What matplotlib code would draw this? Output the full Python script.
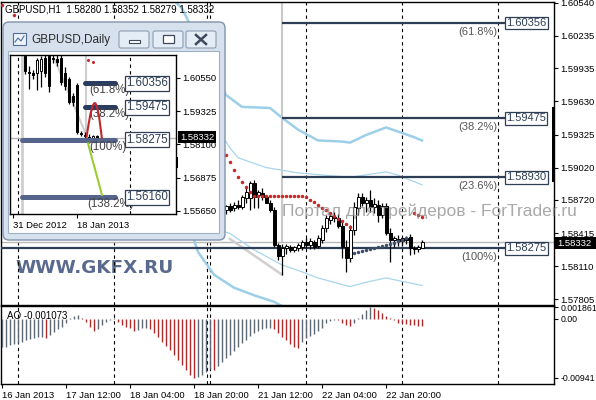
import matplotlib
matplotlib.use("Agg")
import matplotlib.pyplot as plt
from matplotlib.patches import Rectangle, FancyBboxPatch

plt.rcParams['font.family'] = ['Liberation Sans', 'DejaVu Sans']

# ---------------- H1 chart data ----------------
symbol = "GBPUSD,H1"
candle_bars = list(range(56, 106))
opens = [1.58627, 1.58664, 1.58646, 1.58674, 1.58655, 1.58738, 1.58738, 1.58877, 1.58766, 1.58784,
         1.58747, 1.58692, 1.58627, 1.58304, 1.58202, 1.58276, 1.58286, 1.58258, 1.58276, 1.58286,
         1.58332, 1.58304, 1.58332, 1.58295, 1.58350, 1.58461, 1.58535, 1.58563, 1.58554, 1.58480,
         1.58286, 1.58184, 1.58443, 1.58646, 1.58747, 1.58692, 1.58720, 1.58655, 1.58674, 1.58581,
         1.58664, 1.58415, 1.58350, 1.58359, 1.58341, 1.58369, 1.58378, 1.58276, 1.58267, 1.58280]
highs = [1.58674, 1.58692, 1.58701, 1.58720, 1.58766, 1.58831, 1.58895, 1.58905, 1.58812, 1.58831,
         1.58766, 1.58720, 1.58655, 1.58322, 1.58313, 1.58313, 1.58304, 1.58295, 1.58322, 1.58350,
         1.58369, 1.58369, 1.58350, 1.58396, 1.58489, 1.58581, 1.58600, 1.58609, 1.58591, 1.58517,
         1.58350, 1.58489, 1.58701, 1.58784, 1.58784, 1.58747, 1.58812, 1.58738, 1.58720, 1.58692,
         1.58692, 1.58461, 1.58387, 1.58396, 1.58378, 1.58387, 1.58406, 1.58295, 1.58304, 1.58352]
lows = [1.58591, 1.58609, 1.58618, 1.58637, 1.58637, 1.58692, 1.58627, 1.58646, 1.58646, 1.58720,
        1.58692, 1.58609, 1.58286, 1.58165, 1.58027, 1.58221, 1.58239, 1.58239, 1.58248, 1.58258,
        1.58276, 1.58267, 1.58267, 1.58276, 1.58322, 1.58424, 1.58498, 1.58517, 1.58461, 1.58184,
        1.58054, 1.58147, 1.58396, 1.58581, 1.58664, 1.58609, 1.58609, 1.58600, 1.58517, 1.58554,
        1.58396, 1.58147, 1.58286, 1.58295, 1.58295, 1.58313, 1.58212, 1.58221, 1.58239, 1.58279]
closes = [1.58664, 1.58627, 1.58674, 1.58655, 1.58747, 1.58794, 1.58877, 1.58747, 1.58794, 1.58747,
          1.58692, 1.58627, 1.58304, 1.58202, 1.58276, 1.58295, 1.58258, 1.58286, 1.58304, 1.58332,
          1.58304, 1.58341, 1.58286, 1.58369, 1.58461, 1.58554, 1.58572, 1.58554, 1.58480, 1.58286,
          1.58184, 1.58443, 1.58655, 1.58747, 1.58692, 1.58720, 1.58655, 1.58683, 1.58581, 1.58664,
          1.58415, 1.58350, 1.58369, 1.58341, 1.58369, 1.58350, 1.58276, 1.58267, 1.58286, 1.58332]

upper_thick_bars = [42, 45, 50, 56, 60, 67, 70, 74, 79, 85, 87, 91, 96, 100, 103, 105]
upper_thick_vals = [1.6060, 1.6049, 1.6012, 1.5969, 1.5958, 1.5957, 1.5948, 1.5937, 1.5927, 1.5926,
                    1.5925, 1.5932, 1.5939, 1.5934, 1.5930, 1.5927]
upper_thin_bars = [50, 56, 57, 59, 66, 74, 87, 96, 99, 105]
upper_thin_vals = [1.5940, 1.5926, 1.5920, 1.5911, 1.5902, 1.5897, 1.5893, 1.5898, 1.5895, 1.5886]
lower_thick_bars = [45, 48, 49, 53, 58, 63, 68, 72]
lower_thick_vals = [1.5850, 1.5835, 1.5824, 1.5803, 1.5791, 1.5784, 1.5778, 1.5770]
lower_thin_bars = [50, 57, 63, 70, 74, 79, 87, 91, 96, 105]
lower_thin_vals = [1.5850, 1.5841, 1.5826, 1.5812, 1.5807, 1.5800, 1.5792, 1.5796, 1.5800, 1.5793]

sar_up_bars = [0, 3] + list(range(56, 88)) + [103, 104, 105]
sar_up_vals = [1.6052, 1.6043,
               1.59136, 1.59071, 1.58997, 1.58932, 1.58886, 1.58840, 1.58794,
               1.58757, 1.58757, 1.58757, 1.58757, 1.58757, 1.58757, 1.58757, 1.58757, 1.58757,
               1.58757, 1.58757, 1.58757, 1.58757,
               1.58747, 1.58720, 1.58701, 1.58674, 1.58646, 1.58627, 1.58600, 1.58572, 1.58544,
               1.58526, 1.58498, 1.58470,
               1.58600, 1.58581, 1.58563]
sar_dn_bars = list(range(88, 102))
sar_dn_vals = [1.58230, 1.58239, 1.58248, 1.58258, 1.58267, 1.58276, 1.58286, 1.58295, 1.58304,
               1.58313, 1.58322, 1.58341, 1.58350, 1.58369]

fib_levels = [1.60356, 1.59475, 1.58930, 1.58275]
fib_names = ["(61.8%)", "(38.2%)", "(23.6%)", "(100%)"]
fib_start_bar = 70
fib_end_bar = 125.75
last_price = 1.58332
trend_bars = [57, 70]
trend_vals = [1.5836, 1.5803]

price_ticks = [1.60540, 1.60235, 1.59935, 1.59630, 1.59325, 1.59020, 1.58720, 1.58415, 1.58110, 1.57805]
day_separators = [4, 28, 51.25, 52, 76, 100, 124]
date_ticks = [0, 16, 32, 48, 64, 80, 96]
date_labels = ["16 Jan 2013", "17 Jan 12:00", "18 Jan 04:00", "18 Jan 20:00",
               "21 Jan 12:00", "22 Jan 04:00", "22 Jan 20:00"]

# Awesome Oscillator values, bars 0..105
ao_vals = [-0.0045, -0.0044, -0.0042, -0.0040, -0.0038, -0.0036, -0.0034, -0.0032, -0.0031, -0.0029,
           -0.0028, -0.0030, -0.0026, -0.0021, -0.0016, -0.0012, -0.0007, 0.0002, 0.0005, 0.0006,
           0.0002, -0.0005, -0.0012, -0.0019, -0.0016, -0.0010, -0.0005, -0.0002, 0.0001, -0.0005,
           -0.0009, -0.0012, -0.0015, -0.0019, -0.0017, -0.0015, -0.0014, -0.0016, -0.0022, -0.0029,
           -0.0036, -0.0043, -0.0050, -0.0058, -0.0066, -0.0074, -0.0082, -0.0089, -0.00941, -0.0093,
           -0.0089, -0.0085, -0.0080, -0.0082, -0.0075, -0.0069, -0.0063, -0.0057, -0.0051, -0.0045,
           -0.0039, -0.0033, -0.0027, -0.0022, -0.0019, -0.0016, -0.0015, -0.0014, -0.0016, -0.0022,
           -0.0028, -0.0034, -0.0040, -0.0044, -0.0046, -0.0036, -0.0030, -0.0027, -0.0024, -0.0019,
           -0.0014, -0.0007, -0.0003, -0.0001, -0.0002, -0.0007, -0.0010, -0.0011, -0.0006, 0.0002,
           0.0008, 0.0014, 0.001861, 0.0017, 0.0014, 0.0010, 0.0004, 0.0001, -0.0002, -0.0006,
           -0.0007, -0.0008, -0.0009, -0.0010, -0.00105, -0.001073]
ao_ticks = [0.001861, 0.0, -0.00941]
ao_tick_labels = ["0.001861", "0.00", "-0.00941"]

# ---------------- Daily inset data ----------------
d_bars = list(range(3, 22))
d_open = [1.6135, 1.6078, 1.6072, 1.6075, 1.6080, 1.6130, 1.6135, 1.6130, 1.6125, 1.6128,
          1.6075, 1.6050, 1.5990, 1.6030, 1.5851, 1.5845, 1.5839, 1.5833, 1.5840]
d_high = [1.6145, 1.6100, 1.6085, 1.6130, 1.6135, 1.6150, 1.6160, 1.6150, 1.6140, 1.6140,
          1.6095, 1.6060, 1.6000, 1.6035, 1.5860, 1.5855, 1.5850, 1.5845, 1.5845]
d_low = [1.6070, 1.6015, 1.6050, 1.6010, 1.6020, 1.6060, 1.6005, 1.6110, 1.6100, 1.6030,
         1.6010, 1.5960, 1.5950, 1.5850, 1.5840, 1.5830, 1.5814, 1.5825, 1.5830]
d_close = [1.6080, 1.6072, 1.6066, 1.6120, 1.6125, 1.6075, 1.6025, 1.6125, 1.6115, 1.6040,
           1.6025, 1.5968, 1.5965, 1.5857, 1.5848, 1.5840, 1.5830, 1.5840, 1.58332]
d_fib_levels = [1.60356, 1.59475, 1.58275, 1.56160]
d_fib_names = ["(61.8%)", "(38.2%)", "(100%)", "(138.2%)"]
d_fib_start = [18, 18, 2.25, 2.25]
d_fib_colors = ["#2b3c62", "#2b3c62", "#55648a", "#55648a"]
d_arc_bars = [18.4, 18.9, 19.4, 19.9, 20.3, 20.6, 21.0, 21.5, 21.9, 22.2]
d_arc_vals = [1.5839, 1.5885, 1.5925, 1.5952, 1.5962, 1.5962, 1.5950, 1.5915, 1.5870, 1.5835]
d_green_bars = [18.75, 22.25]
d_green_vals = [1.5814, 1.5624]
d_trend_bars = [10.5, 18.5]
d_trend_vals = [1.6121, 1.5838]
d_sar_bars = [18.75, 20]
d_sar_vals = [1.6121, 1.6114]
d_price_ticks = [1.60550, 1.59325, 1.58100, 1.56875, 1.55650]
d_date_ticks = [0, 16]
d_date_labels = ["31 Dec 2012", "18 Jan 2013"]
d_separators = [1.25, 29.25]

# ---------------- figure ----------------
W, H = 596, 400
fig = plt.figure(figsize=(W / 100, H / 100), dpi=100)
fig.patch.set_facecolor("white")


def rect(x0, y0, x1, y1):
    return [x0 / W, 1 - y1 / H, (x1 - x0) / W, (y1 - y0) / H]


ax = fig.add_axes(rect(1, 2, 554, 305), zorder=0)
ao = fig.add_axes(rect(1, 306, 554, 384), zorder=0)
ov = fig.add_axes([0, 0, 1, 1], zorder=5)
ov.set_xlim(0, W)
ov.set_ylim(H, 0)
ov.axis("off")
ins = fig.add_axes(rect(10, 55, 176, 214), zorder=6)

LBL = 6.8


def style_axes(a, size=LBL):
    for s in a.spines.values():
        s.set_color("black")
        s.set_linewidth(1)
    a.yaxis.tick_right()
    a.tick_params(axis="y", length=3, width=0.8, pad=1.5, labelsize=size, colors="black")


def draw_candles(a, xs, o, h, l, c, w, tiny):
    a.vlines(xs, l, h, color="black", lw=0.9, zorder=4)
    for x, oo, cc in zip(xs, o, c):
        b = min(oo, cc)
        hh = max(abs(cc - oo), tiny)
        a.add_patch(Rectangle((x - w / 2, b), w, hh, fc="white" if cc >= oo else "black",
                              ec="black", lw=0.7, zorder=5))


# ---- main chart ----
ax.set_xlim(-0.25, 138)
ax.set_ylim(1.57750, 1.60549)
style_axes(ax)
ax.set_xticks([])
ax.set_yticks(price_ticks)
ax.set_yticklabels([f"{v:.5f}" for v in price_ticks])

for s in day_separators:
    ax.axvline(s, color="black", lw=0.8, dashes=(3, 3), zorder=1)
    ao.axvline(s, color="black", lw=0.8, dashes=(3, 3), zorder=1)

ax.axhline(last_price, color="#b8b8b8", lw=1, zorder=1)
ax.plot(upper_thick_bars, upper_thick_vals, color="#9dcfe8", lw=1.8, zorder=2)
ax.plot(lower_thick_bars, lower_thick_vals, color="#9dcfe8", lw=1.8, zorder=2)
ax.plot(upper_thin_bars, upper_thin_vals, color="#a8d6ec", lw=0.9, zorder=2)
ax.plot(lower_thin_bars, lower_thin_vals, color="#a8d6ec", lw=0.9, zorder=2)
ax.plot(trend_bars, trend_vals, color="#d0d0d0", lw=1.8, zorder=2)
ax.vlines(fib_start_bar, last_price, 1.60549, color="#c9c9c9", lw=1.5, zorder=2)

fib_col = "#2e3f55"
for lev, name in zip(fib_levels, fib_names):
    x0 = -0.25 if name == "(100%)" else fib_start_bar
    ax.hlines(lev, x0, fib_end_bar, color=fib_col, lw=1.6, zorder=3)
    ax.text(fib_end_bar + 0.3, lev, f"{lev:.5f}", fontsize=8, color=fib_col, va="center", ha="left",
            zorder=7, bbox=dict(boxstyle="square,pad=0.12", fc="white", ec=fib_col, lw=0.9))
    ax.text(fib_end_bar - 2, lev - 0.00085, name, fontsize=8, color="#555555", va="center",
            ha="right", zorder=7)

draw_candles(ax, candle_bars, opens, highs, lows, closes, 0.75, 0.00003)
ax.plot(sar_up_bars, sar_up_vals, "o", ms=2.5, color="#c62828", mec="none", zorder=6)
ax.plot(sar_dn_bars, sar_dn_vals, "o", ms=2.5, color="#3b4d69", mec="none", zorder=6)

title = f"{symbol}  {opens[-1]:.5f} {highs[-1]:.5f} {lows[-1]:.5f} {closes[-1]:.5f}"
ax.text(5, 9, title, transform=ov.transData, fontsize=7, va="center", ha="left", zorder=8)
ax.text(15, 268, "WWW.GKFX.RU", transform=ov.transData, fontsize=13.2, fontweight="bold",
        family="DejaVu Sans", color="#5a6a8e", va="center", ha="left", zorder=0.5)

# ---- AO panel ----
ao.set_xlim(-0.25, 138)
ao.set_ylim(-0.01037, 0.00207)
style_axes(ao, size=6.3)
ao_bars = list(range(len(ao_vals)))
ao_cols = ["#5d6874"] + ["#5d6874" if ao_vals[i] > ao_vals[i - 1] else "#b02a2a"
                         for i in range(1, len(ao_vals))]
ao.vlines(ao_bars, 0, ao_vals, colors=ao_cols, lw=1, zorder=3)
ao.set_yticks(ao_ticks)
ao.set_yticklabels(ao_tick_labels)
ao.set_xticks(date_ticks)
ao.set_xticklabels(date_labels, ha="left")
ao.tick_params(axis="x", length=3, width=0.8, pad=2, labelsize=LBL)
ao.text(7, 316, f"AO {ao_vals[-1]:.6f}", transform=ov.transData, fontsize=7, va="center",
        ha="left", zorder=8)

# ---- overlay decorations (price label, window frame) ----
ov.add_patch(Rectangle((555, 237), 41, 12, fc="black", ec="none"))
ov.text(557, 243.5, f"{last_price:.5f}", color="white", fontsize=LBL, va="center", ha="left")
ov.add_patch(Rectangle((552, 107), 3, 75, fc="black", ec="none"))

ov.add_patch(FancyBboxPatch((3, 22), 222, 218, boxstyle="round,pad=0,rounding_size=6",
                            fc="#d6e1ed", ec="#7f93ab", lw=1))
ov.add_patch(Rectangle((8, 51), 211, 182, fc="white", ec="#9fb1c5", lw=0.8))
ov.add_patch(Rectangle((13, 33), 13, 12, fc="#eef3f8", ec="#4f6f99", lw=0.8))
ov.plot([15, 18, 21, 24], [42, 38, 41, 36], color="#4f6f99", lw=0.8)
ov.text(31, 40.5, "GBPUSD,Daily", fontsize=8.5, va="center", ha="left", color="#2a2a2a")
for bx in (119, 153, 186):
    ov.add_patch(FancyBboxPatch((bx, 31), 30, 17, boxstyle="round,pad=0,rounding_size=2",
                                fc="#e4ecf5", ec="#8b9db3", lw=0.8))
ov.add_patch(Rectangle((129, 40), 11, 3, fc="white", ec="#3c4a5c", lw=0.8))
ov.add_patch(Rectangle((163, 35), 11, 8, fc="white", ec="#3c4a5c", lw=0.9))
ov.plot([196, 206], [35, 44], color="#3c4a5c", lw=1.8)
ov.plot([196, 206], [44, 35], color="#3c4a5c", lw=1.8)
ov.add_patch(Rectangle((176, 157), 2, 11, fc="black", ec="none"))
ov.add_patch(Rectangle((178, 131), 38, 12, fc="black", ec="none"))
ov.text(180, 137.5, f"{d_close[-1]:.5f}", color="white", fontsize=LBL, va="center", ha="left")

ov.text(282, 211, "Портал для трейдеров - ForTrader.ru", fontsize=12.5, color="#8c8c8c",
        alpha=0.75, va="center", ha="left", zorder=20)

# ---- inset daily chart ----
ins.set_xlim(-0.75, 40.75)
ins.set_ylim(1.55539, 1.61397)
style_axes(ins)
ins.set_yticks(d_price_ticks)
ins.set_yticklabels([f"{v:.5f}" for v in d_price_ticks])
ins.set_xticks(d_date_ticks)
ins.set_xticklabels(d_date_labels, ha="left")
ins.tick_params(axis="x", length=3, width=0.8, pad=2, labelsize=LBL)
for s in d_separators:
    ins.axvline(s, color="black", lw=0.8, dashes=(3, 3), zorder=1)
ins.axvline(2.25, color="#cfcfcf", lw=2, zorder=1)
ins.vlines(18.25, d_close[-1], 1.61397, color="#cfcfcf", lw=1.5, zorder=1)
ins.axhline(d_close[-1], color="#b8b8b8", lw=1, zorder=1)
ins.plot(d_trend_bars, d_trend_vals, color="#cfcfcf", lw=1.5, zorder=2)
draw_candles(ins, d_bars, d_open, d_high, d_low, d_close, 0.7, 0.0003)
for lev, name, x0, col in zip(d_fib_levels, d_fib_names, d_fib_start, d_fib_colors):
    ins.plot([x0, 25.5], [lev, lev], color=col, lw=3.6, solid_capstyle="round", zorder=6)
    ins.text(28.3, lev, f"{lev:.5f}", fontsize=8.3, color="#2e3f55", va="center", ha="left",
             zorder=8, bbox=dict(boxstyle="square,pad=0.12", fc="white", ec="#2e3f55", lw=0.9))
    ins.text(19.0 if name != "(138.2%)" else 18.6, lev - 0.0026, name, fontsize=8.3,
             color="#444444", va="center", ha="left", zorder=7)
ins.plot(d_arc_bars, d_arc_vals, color="#c0282d", lw=1.5, zorder=7)
ins.plot(d_green_bars, d_green_vals, color="#9acd32", lw=1.5, zorder=7)
ins.plot(d_sar_bars, d_sar_vals, "o", ms=2.2, color="#c62828", mec="none", zorder=7)

fig.savefig("out.png", dpi=100)
